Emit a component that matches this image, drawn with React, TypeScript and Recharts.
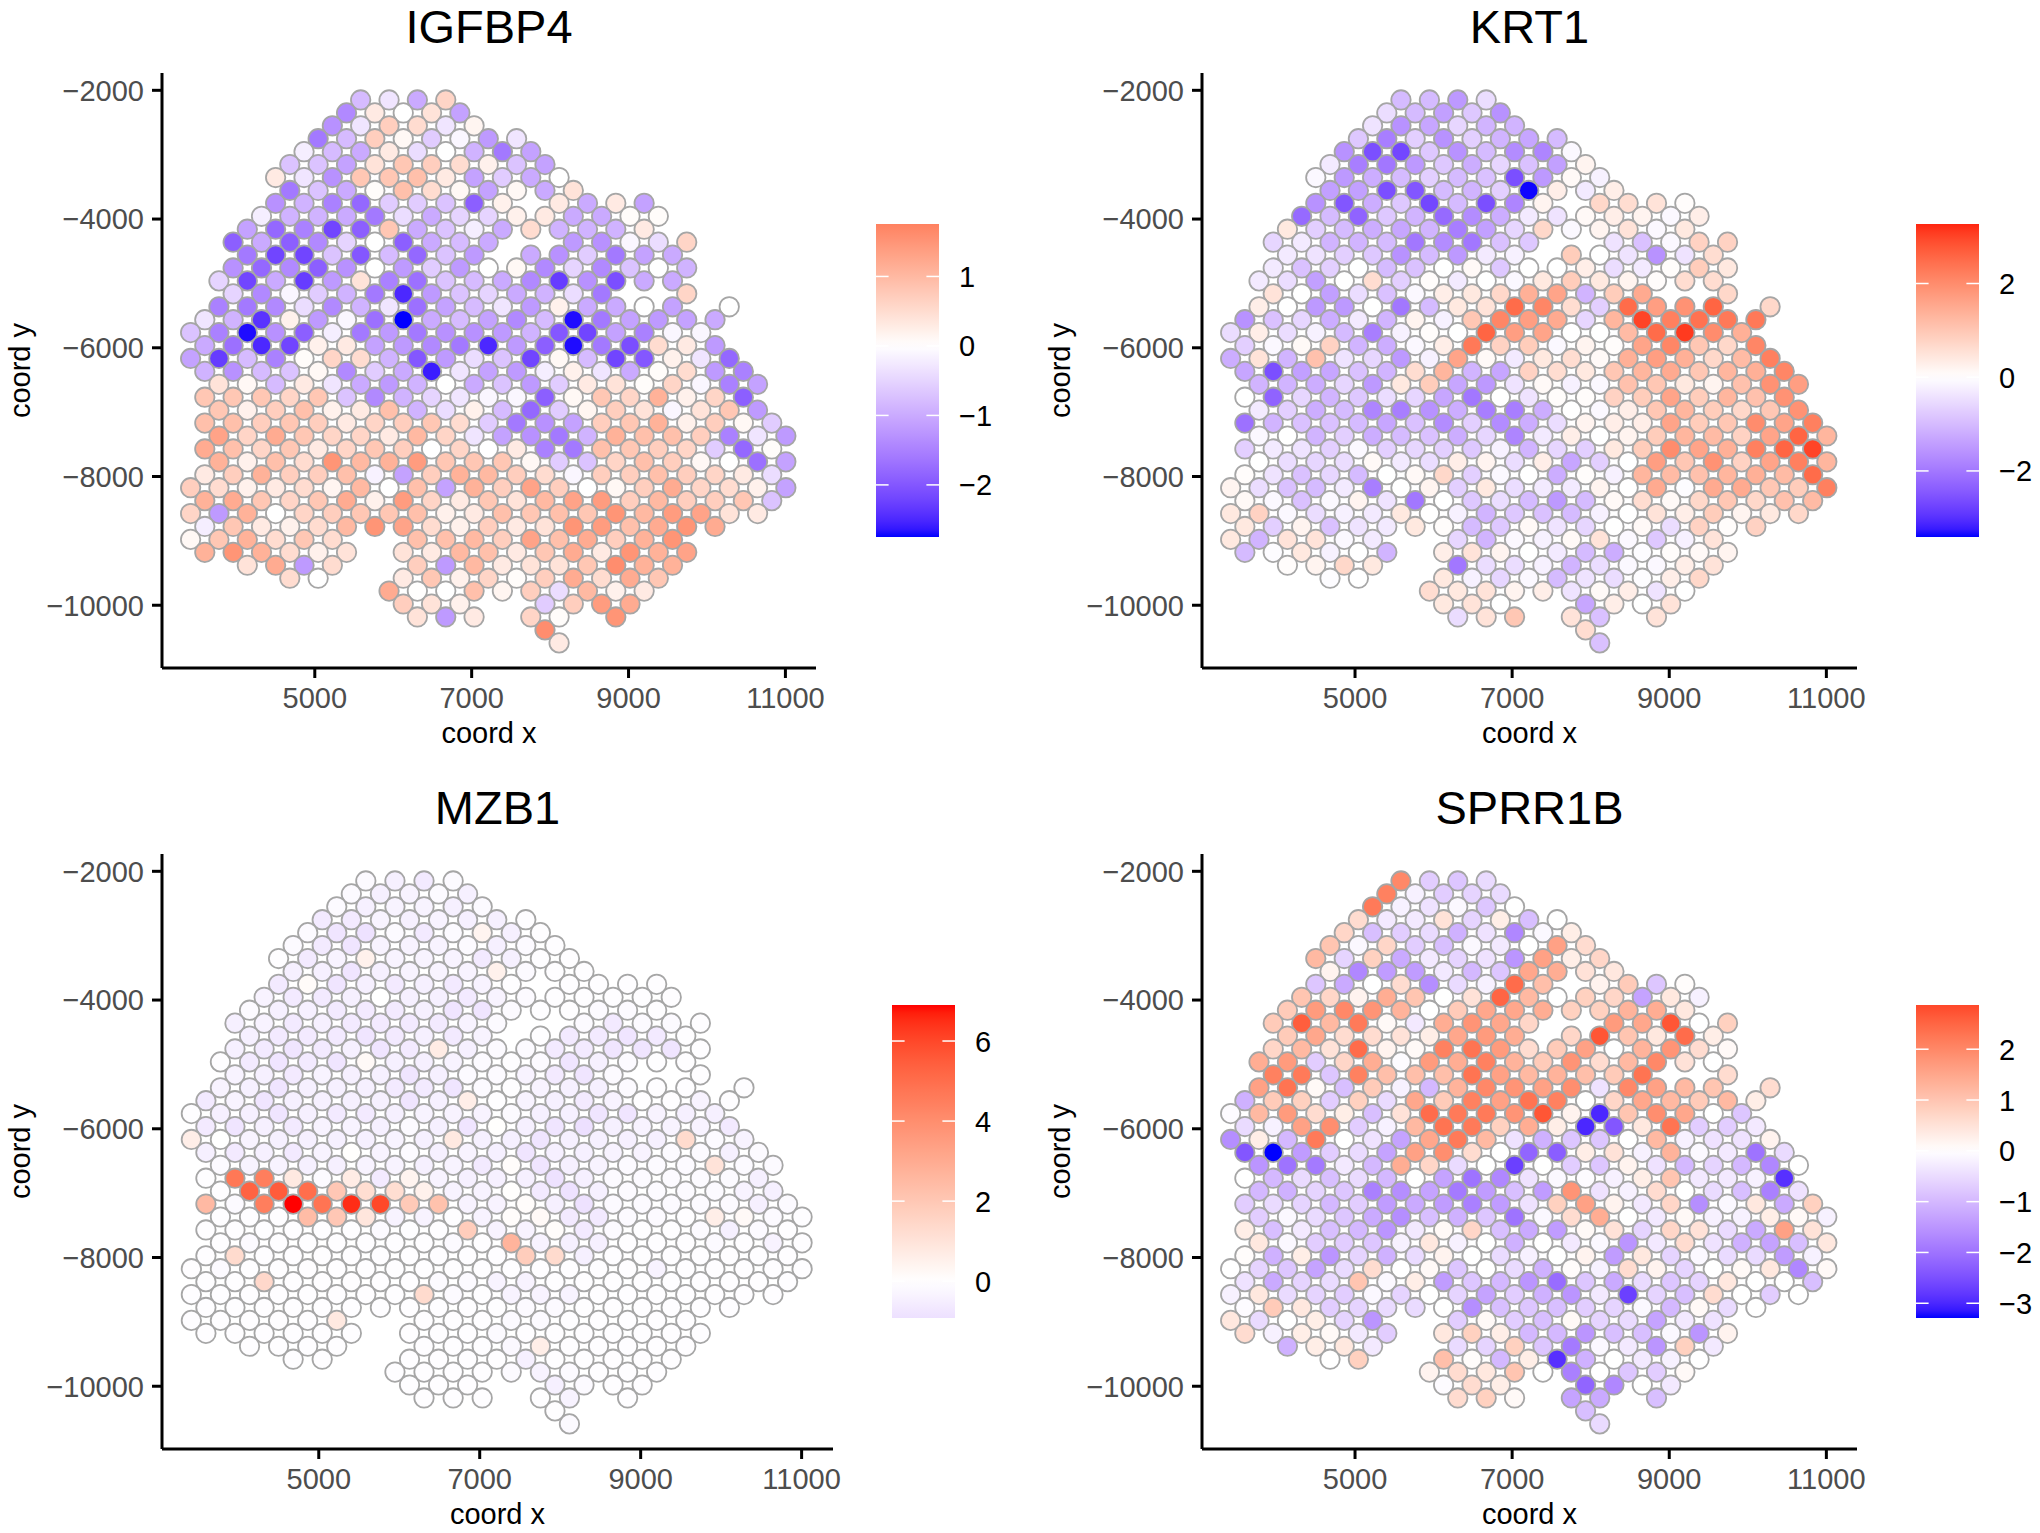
import React from "react";
import { ScatterChart, Scatter, XAxis, YAxis } from "recharts";

const columnX = [3417,3598,3778,3959,4140,4321,4501,4682,4863,5043,5224,5405,5585,5766,5947,6128,6308,6489,6670,6850,7031,7212,7392,7573,7754,7935,8115,8296,8477,8657,8838,9019,9199,9380,9561,9742,9922,10103,10284,10464,10645,10826,11006];
const rowY = [-2150,-2351,-2552,-2752,-2953,-3154,-3355,-3556,-3756,-3957,-4158,-4359,-4560,-4760,-4961,-5162,-5363,-5564,-5764,-5965,-6166,-6367,-6568,-6768,-6969,-7170,-7371,-7572,-7772,-7973,-8174,-8375,-8576,-8776,-8977,-9178,-9379,-9580,-9780,-9981,-10182,-10383,-10585];
// column spans occupied in every row of the hexagonal spot grid
const rowSpans = [[12,18],[11,19],[10,20],[9,23],[8,24],[7,25],[6,26],[7,27],[6,22,26,32],[5,33],[4,32],[3,21,27,35],[4,20,24,34],[3,35],[2,34],[3,29,35,35],[2,34,38,38],[1,37],[0,36],[1,37],[0,38],[1,39],[2,40],[1,39],[2,40],[1,41],[2,42],[1,41],[2,42],[1,41],[0,42],[1,41],[0,40],[1,37],[0,10,16,34],[1,11,15,35],[4,10,16,34],[7,9,15,33],[14,32],[15,19,25,31],[16,20,24,26,30,30],[25,25],[26,26]];

const igfbp4 = [
[-.8,-.3,-1,.6],
[-1.4,.3,0,.4,-1.1],
[-1.3,-.3,.7,.5,-.3,.15],
[-1.6,-.8,.7,.1,-.6,-.1,-1.2,-.3],
[-.2,-.8,-1,.3,-.4,0,-.9,-1.6,-1.1],
[-.7,-.7,-1.1,.4,.8,.7,.5,.2,-.7,-1.1],
[.3,-.3,-1.3,.8,.8,.9,.3,-1.1,-.6,-1,0],
[-1.6,-.7,-1,.05,.9,.5,.1,-1.1,.1,-1,.4],
[-1.3,-.9,-1.5,-1.8,-.6,-.6,-.7,-1.9,.2,.3,-1,.3,-1.1],
[-.2,-.9,-.9,-1,-1.6,-.4,-1,-.5,-.5,.2,.3,-1,-1,.05,.05],
[-1.1,-1.8,-1.5,-2.2,-1.9,.8,-1,-.7,-.2,-1,.5,-.9,-.9,-.9,.3],
[-1.9,-1,-1.9,-1.4,-.5,0,-1.9,-1,-.8,-1,-1.2,-1.3,-.1,-.4,.6],
[-1.6,-2.2,-2.2,-.7,-2,-.8,-1.8,-.7,-1.2,-1,-1.3,-.6,-1.6,-1.1,-1],
[-1.3,-1.8,-1.4,-1.9,-1.3,0,-1.2,-.6,-1.2,0,.1,-1.4,-.5,-1.4,-.7,0,-.9],
[-.5,-2.2,-1,-2.3,-1.2,.4,-1.5,-1.7,-.7,-.8,-1,-1.4,-2.3,-1.3,-2.1,-1,-1],
[-.5,-1.4,-.1,-.6,-.9,-1.6,-2.5,-1.2,-.7,-.5,-1,-.9,-.4,-1.6,.6],
[-1.5,-1.6,-1.4,-.4,-1.4,-.9,-.3,-1.7,-1.1,-.8,-.3,-1.2,.2,-1,-1,0,-1.1,0],
[-.3,-.9,-2.4,.2,-1.2,-.1,-1.7,-2.75,-1,-.8,-1.1,-1.4,-.8,-2.7,-1.6,-1.1,-1.2,-1.1,-1],
[-.7,-1.5,-2.7,-1.3,-1.9,-.2,-1.6,-1.2,-1.6,-1.3,-1.3,-1.2,-.9,-2,-2.2,-1.1,-1.5,-.1,-.1],
[-1,-1.7,-2.5,-2.2,.2,.3,-1.1,-1.2,-1.4,-1.6,-2.5,-1.2,-1.9,-2.7,-1.6,-2.1,.5,.3,-1.2],
[-1.1,-2.3,-.8,-1.5,.05,.6,.5,-.9,-2,-1.2,-.4,-.7,-2.2,.1,-.8,-2.2,-2,.2,-.3,-1.8],
[-.9,-1.3,-.8,-.7,.1,-1.4,-.6,-1,-2.6,-.3,-1.1,-1.2,-.2,.2,-.3,-1,.05,.5,-1.2,-1.5],
[.4,.1,-.8,.3,-.3,-1,-1.2,-.9,0,-1,-.7,-1.2,-.6,.3,.4,.05,.6,-.1,-1.5,-1.1],
[.8,.8,.8,.6,.8,-.7,-1.4,-.9,-.5,-.3,-.1,-.1,-1.9,.1,.8,.6,1.1,.2,.6,-1.9],
[.8,.2,.7,.9,.2,.3,.9,-.9,-.4,.2,-.8,-1.8,-.6,.15,.7,.4,-.1,.4,.8,-1.2],
[.9,.9,.7,.8,.7,.3,.6,.7,.8,.5,-.6,-1.6,-1.3,-1.1,.7,.8,1.1,.2,.7,.1,-.6],
[1.3,.6,1.2,.8,.6,.6,.3,1,.6,-.3,-1.1,-1.3,-1.6,-.9,1.1,.9,.9,.7,-1.5,-.3,-1.2],
[1.2,.9,.6,.8,.3,.6,.8,.7,0,.6,0,.3,-1.5,-1.6,.9,.8,.7,.6,-.6,-1.8,.05],
[1.1,.2,.9,.5,1.5,1,1.1,1.4,.8,.8,.8,.1,-.6,-.7,.6,.9,.7,.1,0,-1.7,-1.1],
[.3,.7,1.1,.7,.7,.9,-.15,-1.1,.7,1.1,1,.7,.5,-.1,.7,.7,.9,.7,.6,.3,-.4],
[.7,.5,.2,.3,.5,.15,1,0,.9,-1.1,1.1,.7,1.3,.7,0,.1,.7,1.2,.6,.5,.2,-1.1],
[1.1,1.2,.8,.6,.8,1.2,.2,1.4,.6,.3,.8,.4,1,1.3,1.4,.7,1,.7,.7,.8,-.7],
[.6,-1.2,1.1,0,.6,.7,.8,.8,.9,.2,.3,.9,.8,.9,.8,1.5,1,1.4,1.3,.4,.3],
[-.2,.8,.3,.2,.5,1,1.5,1.3,.5,.2,.7,.3,.4,1.5,1.4,.9,1.2,1.5,1.2],
[.1,.8,1.1,.5,.8,.5,.9,.9,1,.7,1.3,.9,1.2,.7,1.1,1.5],
[1.1,1.5,1.1,.5,.2,.4,.4,.3,1,.9,.3,.8,1.2,.3,1.5,1.1,1.3],
[.4,1.2,-1.2,.5,.7,-1.2,1,.3,.4,.4,.8,1.6,1.1,1.1],
[.5,0,.3,.8,.2,.6,.05,.7,1.2,.5,1.2,.8],
[1.2,.02,0,.9,.15,.7,-.4,1,.2,.3],
[.7,.4,.2,-.6,.7,1.4,1.2],
[.4,-1.2,.3,.6,.05,1.5],
[1.6],
[.3],
];

const krt1 = [
[-1,-1,-1.5,-.5],
[-.5,-1,-1.4,-.8,-1.6],
[-.4,-1.6,-1.3,-.6,-1.1,-1.1],
[-.8,-1.9,-.7,-1.6,-.7,-1.1,-1.3,-1],
[-1.6,-2.6,-2.7,-.8,-1.6,-1,-1.7,-1.8,-.1],
[-.3,-1.9,-2,-1.5,-.8,-1.2,-.6,-.9,-1.4,.2],
[-.1,-1.5,-1.2,-1,-.7,-1,-.9,-2.6,-1.5,.1,-.2],
[-1.4,-1.4,-2.6,-2.5,-1,-1.1,-.7,-3.39,.3,-.3,.3],
[-1.6,-2.5,-1.2,-.8,-2.7,-1,-2.6,-1.8,.2,.7,.6,.5,.05],
[-2.2,-1,-2.3,-.8,-1.1,-2.2,-1.7,-1.2,-.3,-.4,.1,.3,.2,-.1,.3],
[.4,-.7,-1,-1.2,-1.3,-1.1,-1.9,-1.4,-.6,.7,-.1,.2,.5,-.1,.4],
[-.6,-.3,-1.1,-1.1,-1,-2,-1.7,-2,-.9,-.8,-.4,-.9,-.1,.8,.8],
[-.3,-.4,-.7,-.8,-1.6,-1,-1.5,-.3,-.2,.9,0,-.4,-1.6,-.4,.6],
[-.3,-.9,-.7,0,-1,-.9,0,.1,-.8,0,0,.3,-.5,-.3,.05,.9,.4],
[-.3,-.5,-1.4,0,.6,-.7,.05,-.3,0,-.1,.4,.9,.4,.2,.05,.6,.6],
[.5,0,-1.4,-.5,-.9,-.1,.3,.4,.7,1.4,1.6,-1.1,.9,1.5,.7],
[.3,0,-1.5,-1.5,0,-2,-1,.4,.5,2.5,2.1,.6,-.7,2.5,1.7,1.9,2.6,.7],
[-1.6,-.9,-.6,-1.2,-.3,-1.1,.2,-.2,1,2.1,1.7,1.5,-.6,1.3,3,2.2,2.4,2.3,2.3],
[-.5,.3,-.5,-.2,-1,-1.9,-.2,.05,0,2.6,1.7,1.6,0,0,1.2,2.5,3.1,2,1.4],
[-.7,-.1,.1,.8,-1.1,-1.2,-.1,.3,2.3,.8,.9,-.1,.2,.05,1.6,2.1,1,.7,2.1],
[-1.2,.5,-1.1,1.1,-.4,-.6,-1.5,-.2,1.6,.1,-.3,.4,.6,.1,1.4,1.7,1.4,.7,1.2,2.2],
[-1.3,-2.6,-1.4,-1.3,-.9,-1.1,.6,1.3,-1.1,-1.3,.8,.6,.4,1,1.3,1.5,1,1.3,1.4,2.1],
[-1.1,-1.1,-1.2,-.6,-1.5,.4,.9,-1.3,-1.5,-.4,.1,-.2,-.1,1.1,1,.4,.2,1.1,1.9,1.7],
[0,-2.3,-.6,-1.1,-.8,-.5,-.6,-1.3,-2,0,-.4,.05,.05,.8,.9,1.6,.9,1.3,1.1,1.9],
[-.3,-.7,-1.2,-1,-1.8,-1.9,-1.6,-1.2,-1.9,-1.9,-1.2,0,-.1,.3,1,1.3,.9,.7,1,1.9],
[-2.1,-1.1,-.9,-.9,-1,-1.3,-.9,-1.7,-.7,-1.7,-1.2,-.5,.2,.3,.3,1.6,.9,1,2,1.6,2.2],
[-.1,0,-1.1,-.7,-1.2,-1,-.9,-1.2,-.6,-1.8,-.3,.3,0,.2,.9,1.3,1.2,.8,1.6,2.6,1.3],
[-.7,-.3,-.4,-.7,-.1,-.7,-.6,-.7,-.8,-.2,-1.1,-.6,-.7,.4,.9,2,1.6,1.4,2.2,2.6,3],
[0,-.5,-.6,-.5,.1,-.3,-.5,.3,.2,-.5,.3,-1.3,-.7,0,1.7,1,1.9,.8,1.6,2.2,1.3],
[.05,-.4,-.9,-.6,-1,0,.1,.7,-.7,-.1,0,-1.2,.05,-.2,1.3,1.2,1.1,1.3,1.4,1.2,2.5],
[.2,-.5,-.9,-1,-.3,-1.9,0,.2,-.7,.4,-.5,-.3,-.3,.2,0,1.5,-.05,1.5,1.5,1,.9,2.2],
[.1,-.1,-.9,-.1,.2,-.4,-2,0,-.8,-.5,-1,-1.5,-1,.1,.6,.1,.7,1,.7,1.1,1.2],
[.4,.8,-.1,-.5,-.2,-.3,.4,0,-.2,-1.1,-.8,-.9,-1,-.2,0,.5,.3,.9,.2,.4,.7],
[.4,-.7,.2,-.9,-.4,-.3,.4,.05,-1,-.8,.1,-.4,-.6,0,.1,-.5,.8,.05,.8],
[.4,-1.1,.5,.5,-.1,-.3,-.6,-1.1,-.1,-.2,.1,.5,-.1,-.8,-.2,.5],
[-1,-.05,.4,-.2,0,-1.1,.3,.5,.2,0,-.3,-1,-1.2,-.05,.05,.1,.2],
[.05,.2,.7,.4,-2,-.5,-.5,-.2,-1.1,-.5,-.1,-.1,.3,.5],
[-.05,0,.4,-.2,-.6,-.1,-1,-.4,-.5,-.05,.3,.7],
[.6,.4,.5,.2,.3,-.4,.1,.3,-.4,0],
[.4,.5,0,-1.3,.3,0,.5],
[-.5,.5,1,.5,-.9,.5],
[.6],
[-.9],
];

const mzb1 = [
[-.15,-.45,-.6,-.15],
[-.15,-.45,-.35,-.15,-.45],
[-.15,-.45,-.35,-.35,-.45,-.15],
[-.6,-.6,-.35,-.45,-.35,-.45,-.45,-.07],
[-.15,-.75,-.85,-.15,-.6,-.15,.4,-.45,-.07],
[-.15,-.6,-.75,-.35,-.35,-.35,-.15,-.45,-.15,-.07],
[-.07,-.6,-.35,.5,-.35,-.35,-.35,-.6,-.45,-.07,-.07],
[-.45,-.45,-.75,-.45,-.35,-.35,-.35,.5,-.15,-.07,-.07],
[-.6,.15,-.75,-.45,-.6,-.45,-.6,-.35,-.07,-.07,-.07,-.07,-.07],
[-.35,-.6,-.6,-.45,0,-.45,-.45,-.6,-.35,-.15,-.07,-.07,-.07,-.07,-.07],
[-.15,-.45,-.45,-.6,-.6,-.6,-.45,-.75,-.75,-.15,-.07,-.07,-.15,-.15,-.07],
[-.45,-.35,-.6,-.45,-.6,-.6,-.6,-.6,-.35,-.15,-.15,-.6,-.15,-.15,-.07],
[-.45,-.6,-.6,-.6,-.75,-.6,-.45,-.6,-.35,-.07,-.6,-.6,-.75,-.6,-.07],
[-.45,-.6,-.75,-.6,-.45,-.75,-.6,.7,-.45,-.15,-.15,-.6,-.6,-.75,-.75,-.75,-.07],
[-.07,-.6,-.75,-.6,-.75,.2,-.45,-.45,-.35,-.15,-.07,-.15,-.75,-.45,-.15,-.07,-.07],
[-.35,-.45,-.6,-.35,-.45,-.45,-.75,-.45,-.15,-.15,-.35,-.6,-.75,-.15,-.07],
[-.35,-.45,-.75,-.45,-.45,-.45,-.6,-.6,-.75,-.15,-.07,-.35,-.45,-.45,-.15,-.07,-.07,-.07],
[-.6,-.35,-.75,-.45,-.45,-.45,-.45,-.75,-.45,.6,-.07,-.35,-.45,-.6,-.35,-.07,-.07,-.35,-.07],
[-.07,-.45,-.45,-.75,-.45,-.6,-.6,-.45,-.35,-.35,-.35,-.15,-.45,-.45,-.75,-.75,-.35,-.45,-.45],
[-.6,-.75,-.45,-.6,-.35,-.35,-.45,-.15,-.45,-.75,.05,-.45,-.75,-.9,-.45,-.35,-.35,-.35,-.6],
[.6,0,-.35,-.45,-.45,-.45,-.45,-.35,-.45,.8,-.45,-.45,-.75,-.45,-.45,-.45,-.45,1.3,-.15,-.35],
[-.45,-.6,-.45,-.6,-.35,.05,-.35,-.15,-.45,-.35,-.45,-.75,-.45,-.45,-.35,-.35,-.15,-.15,-.45,-.15],
[-.15,-.35,-.35,-.45,-.45,-.35,-.35,-.45,-.35,-.6,.1,-.75,-.45,-.35,-.15,-.15,-.15,1,-.15,-.15],
[-.07,4.7,4.5,.8,-.15,.7,-.6,.4,-.35,-.45,-.45,-.45,-.85,-.45,-.15,-.15,-.15,-.15,-.15,-.45],
[-.07,5.3,5.5,5,2,1.2,1.2,.5,-.35,-.35,.05,-.6,-.85,-.45,-.15,-.15,-.15,-.15,-.35,-.45],
[2.5,-.15,4.5,6.9,4.8,6.5,6,1.9,2.2,-.35,-.35,.1,-.45,-.85,-.15,-.15,-.15,-.15,-.15,-.45,-.15],
[-.07,-.07,-.07,2.4,2,.9,-.35,-.35,-.07,-.35,.1,.2,-.6,-.6,-.15,-.15,-.07,.6,.2,-.15,-.07],
[-.07,-.07,-.07,-.07,-.07,-.07,-.15,-.07,-.07,1.8,-.35,-.35,.1,-.6,-.15,-.07,-.07,-.15,-.45,-.15,-.07],
[-.07,-.15,-.07,-.07,-.07,-.07,-.07,-.07,-.15,-.07,2.7,-.35,-.45,-.45,-.07,-.07,-.07,-.15,-.07,-.35,-.07],
[-.07,1.3,-.07,-.07,-.07,-.07,-.07,-.07,-.07,-.07,-.07,1.8,1.3,-.45,-.07,-.07,-.07,-.07,-.07,-.07,-.07],
[-.07,-.15,-.07,-.07,-.07,-.07,-.07,-.07,-.07,-.07,-.07,-.07,-.07,-.07,-.07,-.07,-.35,-.07,-.07,-.07,-.07,-.07],
[-.07,-.07,1.4,-.07,-.07,-.07,-.07,-.07,-.15,-.15,-.35,-.35,-.07,-.07,-.07,-.07,-.07,-.07,-.07,-.07,-.07],
[-.07,-.07,-.07,-.07,-.07,-.07,-.07,-.07,1.3,-.15,-.07,-.35,-.35,-.35,-.07,-.07,-.07,-.07,-.07,-.07,-.07],
[-.07,-.07,-.07,-.07,-.07,-.07,-.07,-.07,-.07,-.07,-.07,-.15,-.15,-.07,-.07,-.07,-.07,-.07,-.07],
[-.07,-.07,-.07,-.07,-.07,.8,-.07,-.07,-.07,-.15,-.15,-.07,-.07,-.07,-.07,-.07],
[-.07,-.07,-.07,-.07,-.07,-.07,-.07,-.07,-.07,-.15,-.07,-.07,-.07,-.07,-.07,-.07,-.07],
[-.07,-.07,-.07,-.07,-.07,-.07,-.07,-.2,.6,-.07,-.07,-.07,-.07,-.07],
[-.07,-.07,-.07,-.07,-.07,-.07,-.45,-.07,-.07,-.07,-.07,-.07],
[-.07,-.07,-.07,-.07,-.15,-.35,-.15,-.07,-.07,-.07],
[-.07,-.07,-.07,-.45,-.15,-.07,-.07],
[-.07,-.07,-.07,-.07,-.35,-.07],
[-.07],
[-.15],
];

const sprr1b = [
[2,-.7,-.8,-.5],
[2.1,-.2,-.7,-.6,-.5],
[2.2,-.2,-.4,-.1,-.8,0],
[.6,-.3,-.3,.5,-.6,.3,-.9,0],
[.7,-.9,-.7,-.5,-1.1,-.4,-1.7,-.1,.3],
[1,-.1,.7,-.7,-.9,-.1,-.3,0,1.6,.6],
[1.2,-.6,.8,-1.2,-.3,-.6,-.4,-1.5,1.6,.3,.7],
[.2,-1.7,-1.4,-1.4,-.3,-1,-.8,1.5,1.4,.5,.4],
[-.8,-1.2,0,.6,-1.6,-.5,-.2,2.4,1.1,.2,.9,-.8,.05],
[1,.7,.2,1.4,1,0,.5,2.5,1.2,0,.8,.7,-1.3,.4,-.2],
[.9,1.7,2,1.8,1.3,0,.9,1.5,1.5,1.4,.8,.8,1.3,1.4,.4],
[.9,2.6,1.2,2.2,.1,-.3,1.4,1.8,1.5,.7,1.7,1.5,2.7,0,.8],
[.9,1.5,.6,.6,.5,.3,1.5,1.7,1.4,.7,2.7,1,.4,2.4,.3],
[.7,1.2,.5,2.4,.2,.1,2.1,2.3,1.7,.6,.9,1.6,0,1.3,1.8,.6,.1],
[1.4,1.7,-.7,.7,1.4,-.05,1.7,1.4,2.1,1.3,.9,1.8,.6,1.2,2,.5,0],
[2.1,2.2,-.8,2.1,1.1,1.1,1.1,2.3,1.6,1.2,1.3,1.1,.9,2.3,.6],
[1.6,2.3,.1,-.9,.9,-.2,-1,1.3,2,1.8,1.6,1.9,-.4,2,1.6,1.2,1,.6],
[-1.1,.9,.8,-.7,.8,-.5,1.5,.9,2.1,1.6,2.3,2.1,0,.7,1.5,1.2,.9,1.2,.3],
[-.05,1.2,1.7,.6,.3,-.9,.5,2.4,2.2,2.2,1.8,2.7,.2,-3,1,1.9,1.5,0,-.8],
[-.5,-.2,1.6,1.9,-.7,-.2,1.2,2.3,2.2,.8,1.4,.3,-3,-2.4,.4,2.3,-.7,-.7,-.3],
[-1.6,.3,-1,2.2,0,-.4,-1.3,1.5,2.2,1.2,-.4,-1.1,-.8,-.8,0,1.2,-.2,-.4,-.4,.2],
[-2.4,-3.29,-1.4,-.7,-.5,-1.3,1.6,1.9,.6,0,-2.2,-2.3,.3,.5,-.2,1.3,-.1,-.3,-2,-.5],
[-1.5,-2,-1.9,-.3,-1,1.4,.7,-.5,0,-2.7,0,-.7,-.8,.2,-.4,-1,-.6,-1,-1.7,0],
[0,-1,-.5,-.9,-.5,-1,0,-1.3,-2,-1.7,-.4,-.1,-.05,-.2,.3,1,-.3,-.3,-.2,-2.9],
[-1,-1.1,-.6,-.8,-1.8,-1.6,-1.3,-1.9,-1.4,-.9,-1.4,1.8,-.4,-.2,.6,0,-.5,-.9,-1.8,-.4],
[-.7,-.5,-.6,-1,-.7,-1.4,-1.2,-1.4,-1.8,-1.4,-.4,.8,1.6,.2,-.3,.7,-1.6,-.1,.4,-1.2,.8],
[-.7,-.1,-.5,-.8,-1.2,-1.6,-.9,-1.1,-.8,-2,-.1,.6,1.4,0,-.3,.1,-.2,-.2,.3,.1,-.2],
[.3,-.9,-.3,-.9,-1,-1.5,-.3,.1,.7,-.9,-1.2,-1.4,.1,.5,-.6,.7,.5,-.5,-1.2,1.6,.5],
[.4,-.1,-.7,-.7,-.8,-.2,.4,-.2,0,-1.1,0,-.3,-.1,-1.5,-.3,.6,-.4,-1.1,-1.3,-.9,.4],
[.05,-1.1,.3,-1.5,-.6,-1.1,-.5,.2,0,-.5,-.2,0,.2,-1.4,.4,-.6,-.1,-.5,-.5,-1.4,-.2],
[0,-.6,-.8,-1.3,-.5,.6,0,.1,-.8,0,-.5,-1.1,.05,-.2,.6,.2,-.6,0,.1,.4,-1.7,.1],
[-.4,-1.2,-.6,-.5,1,-.1,.3,-1.4,-.8,-1,-1.5,-2.1,-.8,-1.2,-.5,-.8,-.6,.4,0,0,-.9],
[-.2,.4,-.5,-.6,-.7,-.1,-.6,0,-.6,-1.3,-.7,-1.1,-1.5,-.3,-2.7,-.6,-.9,.6,0,-.7,0],
[-.05,.9,.4,-.7,-.6,-.5,-.5,0,-1.6,-.9,-.8,-.9,-.7,-.6,-.1,-1,.1,-.5,0],
[.4,-.5,0,.3,-.6,-1.5,-.7,.1,-.7,-.9,.1,-.6,-.5,-1.3,-.3,-.4],
[.6,-.2,.3,.1,-.3,-.7,.4,.8,.3,-1,-1,-1.5,-.9,-.9,-.1,-1.5,.2],
[-1.1,.3,.4,-.3,-.5,-.6,.8,-.8,-1.9,-.1,-.3,-1.5,.8,-.3],
[0,.8,1.1,.05,-1,.3,-2.9,-1.1,0,-.3,-.2,0],
[.2,.6,.4,1,0,-1.8,0,-.8,-.7,.1],
[-.05,.6,.3,-2.2,-1.7,0,-.3],
[.6,.8,.1,-1.3,-1.2,-.9],
[-.9],
[-.5],
];

const xTicks = [5000, 7000, 9000, 11000];
const yTicks = [-2000, -4000, -6000, -8000, -10000];
const xDomain = [3052, 11390];
const yDomain = [-10975, -1731];

const panels = [
  { title: "IGFBP4", rows: igfbp4, range: [-2.75, 1.755], ticks: [1, 0, -1, -2], ox: 0, oy: 0, left: 162, right: 816, barX: 876 },
  { title: "KRT1", rows: krt1, range: [-3.41, 3.27], ticks: [2, 0, -2], ox: 1040, oy: 0, left: 162, right: 817, barX: 876 },
  { title: "MZB1", rows: mzb1, range: [-0.92, 6.9], ticks: [6, 4, 2, 0], ox: 0, oy: 781, left: 162, right: 833, barX: 892 },
  { title: "SPRR1B", rows: sprr1b, range: [-3.29, 2.87], ticks: [2, 1, 0, -1, -2, -3], ox: 1040, oy: 781, left: 162, right: 817, barX: 876 },
];

function labToRgb(L: number, a: number, b: number) {
  const fy = (L + 16) / 116, fx = fy + a / 500, fz = fy - b / 200;
  const g = (t: number) => (t > 6 / 29 ? t * t * t : 3 * (6 / 29) * (6 / 29) * (t - 4 / 29));
  const X = 0.95047 * g(fx), Y = g(fy), Z = 1.08883 * g(fz);
  const lin = [
    3.2406 * X - 1.5372 * Y - 0.4986 * Z,
    -0.9689 * X + 1.8758 * Y + 0.0415 * Z,
    0.0557 * X - 0.204 * Y + 1.057 * Z,
  ];
  const ch = lin.map((c) => {
    const v = c <= 0.0031308 ? 12.92 * c : 1.055 * Math.pow(c, 1 / 2.4) - 0.055;
    return Math.round(Math.min(1, Math.max(0, v)) * 255);
  });
  return `rgb(${ch[0]},${ch[1]},${ch[2]})`;
}
function colorFor(v: number, maxAbs: number) {
  const t = Math.min(1, Math.abs(v) / maxAbs);
  return v >= 0 ? labToRgb(100 - 46.76 * t, 80.09 * t, 67.2 * t) : labToRgb(100 - 67.7 * t, 79.19 * t, -107.86 * t);
}
function buildSpots(rows: number[][]) {
  const out: { x: number; y: number; v: number }[] = [];
  rowSpans.forEach((spans, r) => {
    const cols: number[] = [];
    for (let s = 0; s < spans.length; s += 2) for (let c = spans[s]; c <= spans[s + 1]; c += 2) cols.push(c);
    cols.forEach((c, i) => out.push({ x: columnX[c], y: rowY[r], v: rows[r][i] }));
  });
  return out;
}
const fmt = (v: number) => String(v).replace("-", "\u2212");
const FONT = "'Liberation Sans', Arial, sans-serif";

function Panel({ p }: { p: (typeof panels)[number] }) {
  const data = buildSpots(p.rows);
  const maxAbs = Math.max(Math.abs(p.range[0]), Math.abs(p.range[1]));
  const W = 1020, H = 760, plotTop = 73, plotBottom = 668, xH = 80;
  const cx = (p.left + p.right) / 2;
  const barTop = 224, barH = 313, barW = 63;
  const span = p.range[1] - p.range[0];
  const yOf = (v: number) => barTop + ((p.range[1] - v) / span) * barH;
  const gid = `grad-${p.title}`;
  const stops = Array.from({ length: 41 }, (_, i) => {
    const v = p.range[1] - (i / 40) * span;
    return <stop key={i} offset={`${(i / 40) * 100}%`} stopColor={colorFor(v, maxAbs)} />;
  });
  return (
    <div style={{ position: "absolute", left: p.ox, top: p.oy, width: W, height: H }}>
      <ScatterChart width={W} height={H} margin={{ top: plotTop, right: W - p.right, bottom: H - plotBottom - xH, left: 0 }} style={{ position: "absolute", left: 0, top: 0 }}>
        <XAxis type="number" dataKey="x" domain={xDomain} ticks={xTicks} allowDataOverflow height={xH} interval={0}
          axisLine={{ stroke: "#000", strokeWidth: 3 }} tickLine={{ stroke: "#000", strokeWidth: 3 }} tickSize={10} tickMargin={9}
          tick={{ fill: "#4d4d4d", fontSize: 29, fontFamily: FONT }} />
        <YAxis type="number" dataKey="y" domain={yDomain} ticks={yTicks} allowDataOverflow width={p.left} interval={0} tickFormatter={fmt}
          axisLine={{ stroke: "#000", strokeWidth: 3 }} tickLine={{ stroke: "#000", strokeWidth: 3 }} tickSize={10} tickMargin={8}
          tick={{ fill: "#4d4d4d", fontSize: 29, fontFamily: FONT }} />
        <Scatter data={data} isAnimationActive={false}
          shape={(s: any) => <circle cx={s.cx} cy={s.cy} r={9.7} fill={colorFor(s.payload.v, maxAbs)} stroke="#a6a6a6" strokeWidth={1.8} />} />
      </ScatterChart>
      <svg width={W} height={H} style={{ position: "absolute", left: 0, top: 0, pointerEvents: "none" }} fontFamily={FONT}>
        <defs><linearGradient id={gid} x1="0" y1="0" x2="0" y2="1">{stops}</linearGradient></defs>
        <text x={cx} y={43} textAnchor="middle" fontSize={47} fill="#000">{p.title}</text>
        <text x={cx} y={743} textAnchor="middle" fontSize={29} fill="#000">coord x</text>
        <text transform={`translate(30,${(plotTop + plotBottom) / 2}) rotate(-90)`} textAnchor="middle" fontSize={29} fill="#000">coord y</text>
        <rect x={p.barX} y={barTop} width={barW} height={barH} fill={`url(#${gid})`} />
        {p.ticks.map((t) => (
          <g key={t}>
            <line x1={p.barX} x2={p.barX + 12.6} y1={yOf(t)} y2={yOf(t)} stroke="#fff" strokeWidth={1.5} />
            <line x1={p.barX + barW - 12.6} x2={p.barX + barW} y1={yOf(t)} y2={yOf(t)} stroke="#fff" strokeWidth={1.5} />
            <text x={p.barX + barW + 20} y={yOf(t) + 10.5} fontSize={29} fill="#000">{fmt(t)}</text>
          </g>
        ))}
      </svg>
    </div>
  );
}

export default function App() {
  return (
    <div style={{ position: "absolute", left: 0, top: 0, width: 2040, height: 1533, background: "#fff" }}>
      {panels.map((p) => <Panel key={p.title} p={p} />)}
    </div>
  );
}
